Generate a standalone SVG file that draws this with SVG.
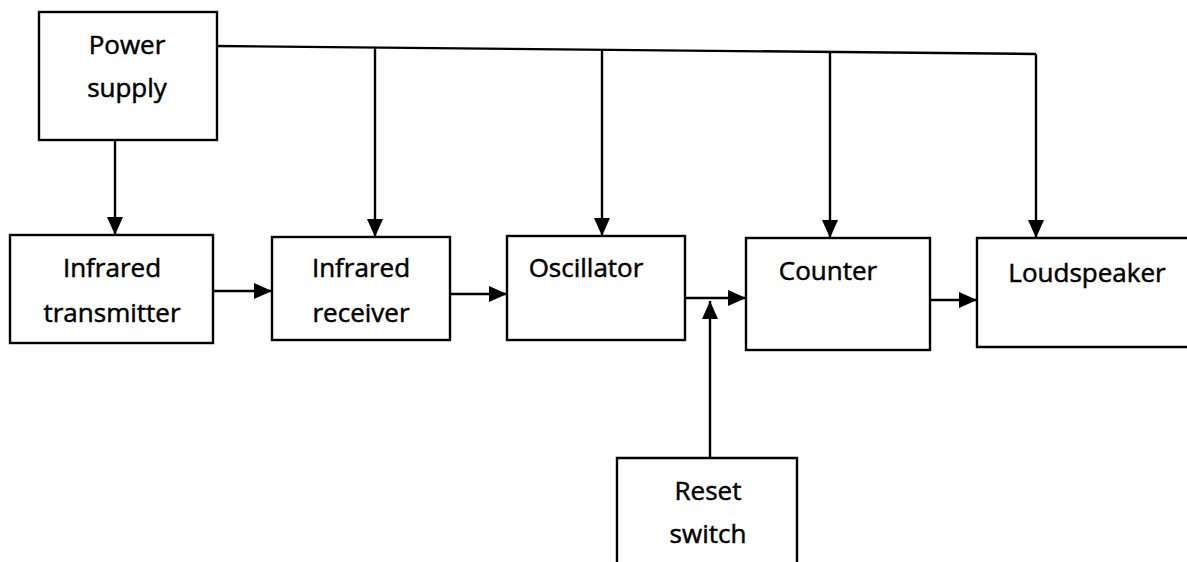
<svg xmlns="http://www.w3.org/2000/svg" width="1187" height="562" viewBox="0 0 1187 562">
<style>
.box{fill:#fff;stroke:#000;stroke-width:2.4}
.lbl{font-family:"Open Sans","Noto Sans",sans-serif;font-size:26px;fill:#000;stroke:#000;stroke-width:0.5;text-anchor:middle}
.con{fill:none;stroke:#000;stroke-width:2.4}
</style>
<defs>
<marker id="ah" markerUnits="userSpaceOnUse" markerWidth="18" markerHeight="18" viewBox="0 0 18 18" refX="18" refY="9" orient="auto">
<path d="M0,1 L18,9 L0,17 Z" fill="#000"/>
</marker>
</defs>
<rect width="1187" height="562" fill="#fff"/>
<g id="connectors">
<path class="con" d="M217,46 L1036,54"/>
<path class="con" d="M115,140 V235" marker-end="url(#ah)"/>
<path class="con" d="M375,48 V237" marker-end="url(#ah)"/>
<path class="con" d="M602,50 V236" marker-end="url(#ah)"/>
<path class="con" d="M830,52 V238" marker-end="url(#ah)"/>
<path class="con" d="M1036,54 V238" marker-end="url(#ah)"/>
<path class="con" d="M213,291 H272" marker-end="url(#ah)"/>
<path class="con" d="M450,294 H507" marker-end="url(#ah)"/>
<path class="con" d="M685,298 H746" marker-end="url(#ah)"/>
<path class="con" d="M710,458 V301" marker-end="url(#ah)"/>
<path class="con" d="M930,300 H977" marker-end="url(#ah)"/>
</g>
<g id="power-supply">
<rect class="box" x="39" y="12" width="178" height="128"/>
<text class="lbl" x="127" y="54">Power</text>
<text class="lbl" x="127" y="97">supply</text>
</g>
<g id="infrared-transmitter">
<rect class="box" x="10" y="235" width="203" height="108"/>
<text class="lbl" x="112" y="277">Infrared</text>
<text class="lbl" x="112" y="322">transmitter</text>
</g>
<g id="infrared-receiver">
<rect class="box" x="272" y="237" width="178" height="103"/>
<text class="lbl" x="361" y="277">Infrared</text>
<text class="lbl" x="361" y="322">receiver</text>
</g>
<g id="oscillator">
<rect class="box" x="507" y="236" width="178" height="104"/>
<text class="lbl" x="586" y="277">Oscillator</text>
</g>
<g id="counter">
<rect class="box" x="746" y="238" width="184" height="112"/>
<text class="lbl" x="828" y="280">Counter</text>
</g>
<g id="loudspeaker">
<path class="box" d="M1190,238 H977 V347 H1190"/>
<text class="lbl" x="1087" y="282">Loudspeaker</text>
</g>
<g id="reset-switch">
<path class="box" d="M617,565 V458 H797 V565"/>
<text class="lbl" x="708" y="500">Reset</text>
<text class="lbl" x="708" y="543">switch</text>
</g>
</svg>
